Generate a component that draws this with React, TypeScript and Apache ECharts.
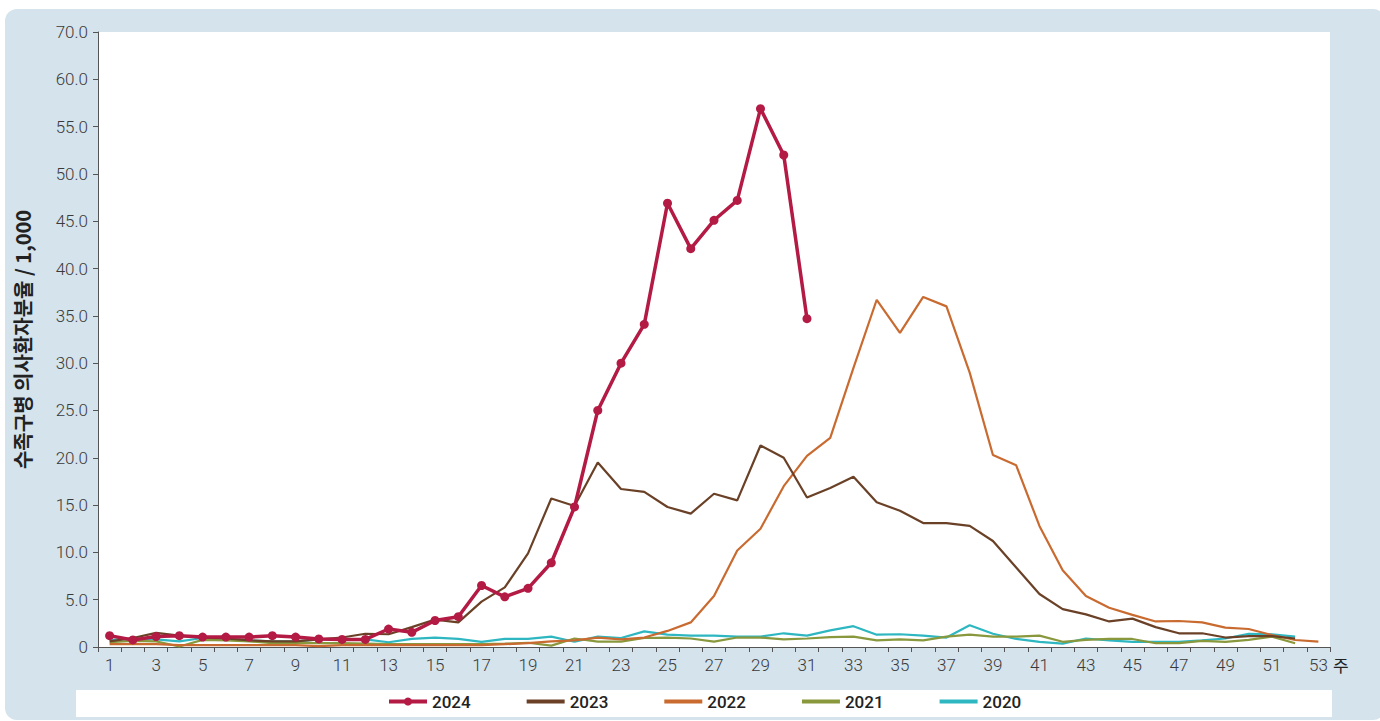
import React, { useEffect, useRef } from "react";
import * as echarts from "echarts";

const weeks = Array.from({ length: 53 }, (_, i) => String(i + 1));

const y2024 = [1.2, 0.75, 1.1, 1.2, 1.05, 1.05, 1.05, 1.2, 1.05, 0.85, 0.8, 0.8, 1.9, 1.55, 2.8, 3.2, 6.5, 5.3, 6.2, 8.9, 14.8, 25.0, 30.0, 34.1, 46.9, 42.1, 45.1, 47.2, 56.9, 52.0, 34.7];
const y2023 = [0.6, 0.95, 1.5, 1.2, 1.0, 0.9, 0.7, 0.6, 0.6, 0.8, 1.0, 1.4, 1.35, 2.1, 2.9, 2.6, 4.8, 6.3, 9.9, 15.7, 14.9, 19.5, 16.7, 16.4, 14.8, 14.1, 16.2, 15.5, 21.3, 20.0, 15.8, 16.8, 18.0, 15.3, 14.4, 13.1, 13.1, 12.8, 11.2, 8.4, 5.6, 4.0, 3.45, 2.7, 3.0, 2.1, 1.45, 1.45, 1.0, 1.15, 1.15, 0.9];
const y2022 = [0.3, 0.3, 0.3, 0.2, 0.2, 0.2, 0.2, 0.2, 0.2, 0.1, 0.2, 0.2, 0.2, 0.2, 0.2, 0.2, 0.2, 0.3, 0.4, 0.6, 0.7, 1.0, 0.8, 1.0, 1.7, 2.6, 5.4, 10.2, 12.5, 17.0, 20.2, 22.1, 29.5, 36.7, 33.2, 37.0, 36.0, 29.0, 20.3, 19.2, 12.8, 8.1, 5.4, 4.15, 3.4, 2.7, 2.75, 2.6, 2.05, 1.9, 1.27, 0.74, 0.56];
const y2021 = [0.5, 0.65, 0.6, 0.05, 0.75, 0.7, 0.6, 0.4, 0.45, 0.4, 0.4, 0.35, 0.3, 0.3, 0.3, 0.3, 0.3, 0.35, 0.45, 0.15, 0.9, 0.56, 0.56, 0.95, 1.0, 0.9, 0.56, 1.0, 1.0, 0.8, 0.9, 1.05, 1.1, 0.7, 0.8, 0.7, 1.1, 1.3, 1.1, 1.1, 1.2, 0.55, 0.75, 0.85, 0.85, 0.4, 0.4, 0.65, 0.55, 0.75, 1.1, 0.4];
const y2020 = [0.75, 0.85, 0.8, 0.6, 0.95, 0.9, 0.7, 0.6, 0.6, 0.8, 0.8, 0.8, 0.5, 0.85, 1.0, 0.85, 0.55, 0.85, 0.85, 1.1, 0.56, 1.1, 0.95, 1.65, 1.3, 1.2, 1.2, 1.1, 1.1, 1.45, 1.2, 1.75, 2.2, 1.3, 1.35, 1.2, 1.0, 2.3, 1.4, 0.85, 0.55, 0.35, 0.9, 0.7, 0.55, 0.55, 0.55, 0.7, 0.9, 1.4, 1.35, 1.1];

const seriesNames = ["2024", "2023", "2022", "2021", "2020"];
const seriesColors = ["#b31a44", "#6a4127", "#c96b30", "#8a983d", "#2eb7c1"];

const yMax = 65;
const topLabel = "70.0";

export default function App() {
  const ref = useRef<HTMLDivElement>(null);
  useEffect(() => {
    if (!ref.current) return;
    const chart = echarts.init(ref.current, undefined, { renderer: "svg" });
    const datas = [y2024, y2023, y2022, y2021, y2020];
    const series = seriesNames.map((name, i) => ({
      name,
      type: "line",
      data: datas[i],
      color: seriesColors[i],
      symbol: i === 0 ? "circle" : "none",
      symbolSize: i === 0 ? 9 : 0,
      showSymbol: i === 0,
      z: i === 0 ? 10 : 5 - i,
      lineStyle: { width: i === 0 ? 3.5 : 2.2, color: seriesColors[i] },
      itemStyle: { color: seriesColors[i] },
    }));
    chart.setOption({
      animation: false,
      textStyle: { fontFamily: "Roboto" },
      graphic: {
        elements: [
          {
            type: "rect",
            z: -10,
            shape: { x: 5, y: 9, width: 1380, height: 711, r: 12 },
            style: { fill: "#d4e3ec" },
          },
          {
            type: "rect",
            z: -9,
            shape: { x: 98, y: 32, width: 1232, height: 615 },
            style: { fill: "#ffffff" },
          },
          {
            type: "rect",
            z: -9,
            shape: { x: 76, y: 690, width: 1256, height: 27 },
            style: { fill: "#ffffff" },
          },
          {
            type: "text",
            x: 1333,
            y: 656,
            style: {
              text: "주",
              fontSize: 17,
              fontFamily: "Noto Sans CJK KR",
              fill: "#222",
            },
          },
        ],
      },
      legend: {
        data: seriesNames.map((name, i) =>
          i === 0 ? { name } : { name, itemStyle: { opacity: 0 } }
        ),
        left: 382,
        top: 688,
        itemWidth: 38,
        itemHeight: 10,
        itemGap: 54,
        lineStyle: { width: 4 },
        textStyle: { fontSize: 17, fontWeight: 500, color: "#222", fontFamily: "Roboto" },
      },
      grid: { left: 98, right: 50, top: 32, bottom: 74, containLabel: false },
      xAxis: {
        type: "category",
        data: weeks,
        boundaryGap: true,
        axisLine: { lineStyle: { color: "#555", width: 1 } },
        axisTick: { show: true, interval: 0, length: 5, lineStyle: { color: "#555" } },
        axisLabel: { interval: 1, color: "#3a3a3a", fontSize: 17, fontWeight: 300, margin: 9 },
      },
      yAxis: {
        type: "value",
        min: 0,
        max: yMax,
        interval: 5,
        name: "수족구병 의사환자분율 / 1,000",
        nameLocation: "middle",
        nameRotate: 90,
        nameGap: 66,
        nameTextStyle: { fontSize: 20, fontWeight: "bold", color: "#222", fontFamily: "Noto Sans CJK KR" },
        axisLine: { show: true, lineStyle: { color: "#555", width: 1 } },
        axisTick: { show: true, length: 5, lineStyle: { color: "#555" } },
        splitLine: { show: false },
        axisLabel: {
          color: "#3a3a3a",
          fontSize: 17,
          fontWeight: 300,
          margin: 10,
          formatter: (v: number) => (v === 0 ? "0" : v === yMax ? topLabel : v.toFixed(1)),
        },
      },
      series,
    });
    return () => chart.dispose();
  }, []);
  return (
    <div
      ref={ref}
      style={{ position: "absolute", left: 0, top: 0, width: 1380, height: 721 }}
    />
  );
}
